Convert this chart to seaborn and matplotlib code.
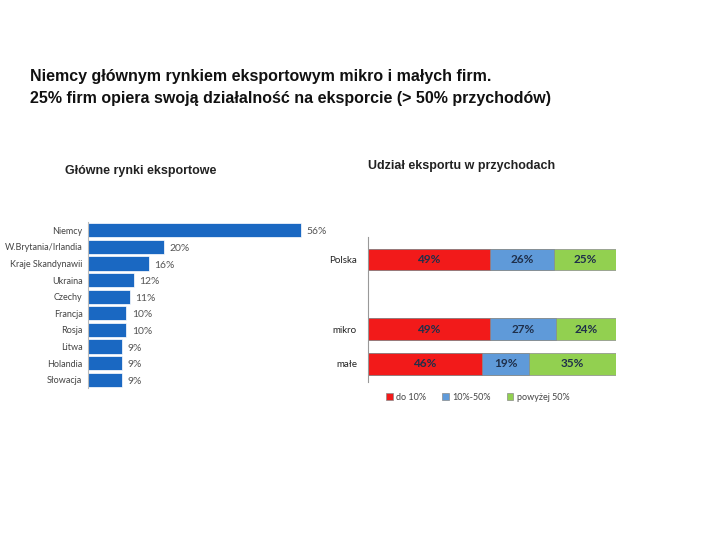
import matplotlib
matplotlib.use("Agg")
import matplotlib.pyplot as plt
import matplotlib.patches as mpatches
import pandas as pd
import seaborn as sns

# left chart data
markets = ["Niemcy", "W.Brytania/Irlandia", "Kraje Skandynawii", "Ukraina", "Czechy",
           "Francja", "Rosja", "Litwa", "Holandia", "Słowacja"]
market_share = [56, 20, 16, 12, 11, 10, 10, 9, 9, 9]

# right chart data
groups = ["Polska", "mikro", "małe"]
do_10 = [49, 49, 46]
od_10_do_50 = [26, 27, 19]
pow_50 = [25, 24, 35]
series_names = ["do 10%", "10%-50%", "powyżej 50%"]

BLUE = "#1a68c2"
RED = "#f21a1a"
MIDBLUE = "#5f9ad9"
GREEN = "#92d050"
SMALL = ["Lato", "DejaVu Sans"]  # closest to the Calibri look of the labels

sns.set_style("white")
plt.rcParams["font.family"] = ["Liberation Sans", "DejaVu Sans"]

fig = plt.figure(figsize=(7.2, 5.4), dpi=100)

fig.text(30 / 720, 1 - 76 / 540, "Niemcy głównym rynkiem eksportowym mikro i małych firm.",
         fontsize=11.5, fontweight="bold", va="center", color="#111111")
fig.text(30 / 720, 1 - 99 / 540, "25% firm opiera swoją działalność na eksporcie (> 50% przychodów)",
         fontsize=11.5, fontweight="bold", va="center", color="#111111")
fig.text(65 / 720, 1 - 171 / 540, "Główne rynki eksportowe", fontsize=9, fontweight="bold",
         va="center", color="#222222")
fig.text(368 / 720, 1 - 166 / 540, "Udział eksportu w przychodach", fontsize=9, fontweight="bold",
         va="center", color="#222222")

# ---- left: main export markets
df_m = pd.DataFrame({"rynek": markets, "udzial": market_share})
ax1 = fig.add_axes([88 / 720, 1 - 388 / 540, 228 / 720, 166 / 540])
sns.barplot(data=df_m, x="udzial", y="rynek", ax=ax1, color=BLUE, orient="h",
            width=0.85, edgecolor="white", linewidth=0.5, saturation=1)
ax1.set_xlim(0, 60)
ax1.set_ylim(len(markets) - 0.5, -0.5)
ax1.set_xlabel("")
ax1.set_ylabel("")
ax1.set_xticks([])
for s in ["top", "right", "bottom"]:
    ax1.spines[s].set_visible(False)
ax1.spines["left"].set_color("#bbbbbb")
ax1.tick_params(axis="y", length=0, pad=4, labelsize=6.5, labelcolor="#444444")
for lab in ax1.get_yticklabels():
    lab.set_family(SMALL)
for i, v in enumerate(market_share):
    ax1.text(v + 1.5, i + 0.1, f"{v}%", va="center", ha="left", fontsize=7.5,
             color="#555555", family=SMALL)

# ---- right: share of export in revenue (stacked)
order = ["Polska", "", "mikro", "małe"]
df_s = pd.DataFrame({"grupa": groups, "a": do_10, "b": od_10_do_50, "c": pow_50})
df_s["ab"] = df_s["a"] + df_s["b"]
df_s["abc"] = df_s["ab"] + df_s["c"]
ax2 = fig.add_axes([368 / 720, 1 - 382 / 540, 248 / 720, 145 / 540])
for col, colr in [("abc", GREEN), ("ab", MIDBLUE), ("a", RED)]:
    sns.barplot(data=df_s, x=col, y="grupa", order=order, ax=ax2, color=colr, orient="h",
                width=0.62, edgecolor="#8a8a8a", linewidth=0.5, saturation=1)
ax2.set_xlim(0, 100)
ax2.set_ylim(3.52, -0.65)
ax2.set_xlabel("")
ax2.set_ylabel("")
ax2.set_xticks([])
for s in ["top", "right", "bottom"]:
    ax2.spines[s].set_visible(False)
ax2.spines["left"].set_color("#999999")
ax2.spines["left"].set_linewidth(0.8)
ax2.tick_params(axis="y", length=0, pad=8, labelsize=7, labelcolor="#222222")
for lab in ax2.get_yticklabels():
    lab.set_family(SMALL)
pos = {"Polska": 0, "mikro": 2, "małe": 3}
for _, r in df_s.iterrows():
    y = pos[r["grupa"]]
    for start, width in [(0, r["a"]), (r["a"], r["b"]), (r["ab"], r["c"])]:
        ax2.text(start + width / 2, y, f"{width}%", ha="center", va="center",
                 fontsize=8.5, fontweight="bold", color="#1f2f4a", family=SMALL)

handles = [mpatches.Patch(facecolor=c, edgecolor="#8a8a8a", linewidth=0.5, label=n)
           for c, n in zip([RED, MIDBLUE, GREEN], series_names)]
leg = fig.legend(handles=handles, loc="center", bbox_to_anchor=(478 / 720, 1 - 397 / 540), ncol=3,
                 frameon=False, fontsize=6.5, handlelength=0.7, handleheight=0.7,
                 handletextpad=0.4, columnspacing=1.8, labelcolor="#444444")
for t in leg.get_texts():
    t.set_family(SMALL)

fig.savefig("out.png", dpi=100)
